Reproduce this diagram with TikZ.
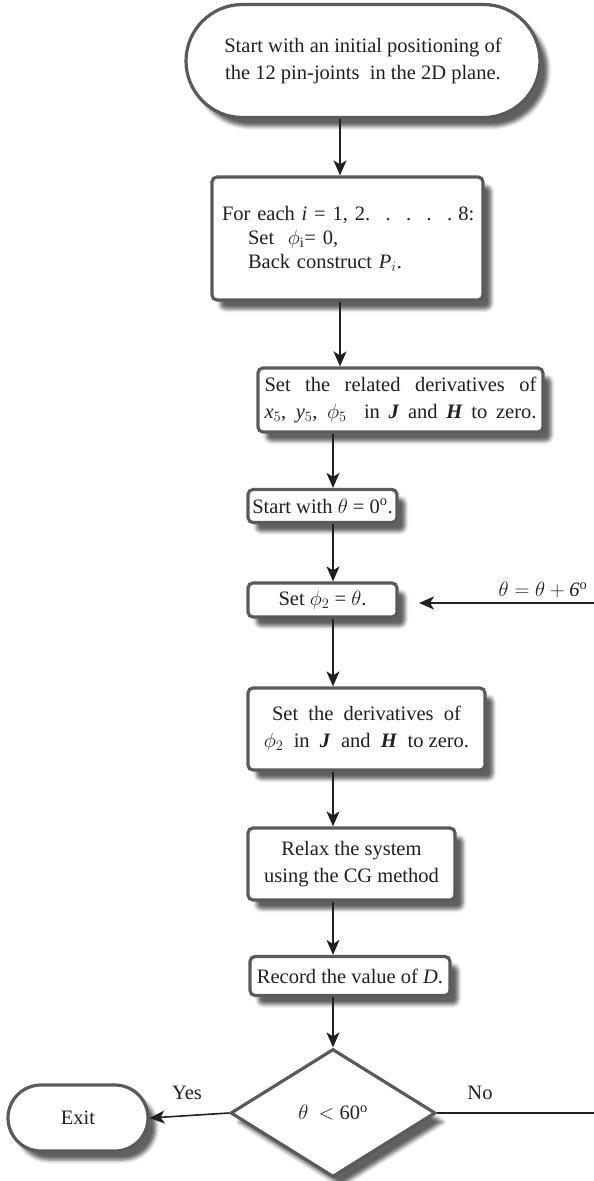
\documentclass[tikz,border=0pt]{standalone}
\usepackage{fontspec}
\setmainfont{Liberation Serif}
\usetikzlibrary{shapes.geometric,shapes.misc,shadows.blur,arrows.meta,calc}
\definecolor{edgegray}{HTML}{5A5A5A}
\definecolor{ink}{HTML}{231F20}
\begin{document}
\begin{tikzpicture}[x=1pt,y=-1pt,
  font=\fontsize{20.5}{27}\selectfont,
  shade box/.style={blur shadow={shadow xshift=8pt,shadow yshift=-9pt,shadow blur radius=3.5pt,shadow opacity=62}},
  procbox/.style={draw=edgegray,line width=3.2pt,rounded corners=5pt,fill=white,shade box,inner sep=0pt,align=center,text=ink},
  termbox/.style={rounded rectangle,draw=edgegray,line width=3.2pt,fill=white,shade box,inner sep=0pt,align=center,text=ink},
  decbox/.style={diamond,draw=edgegray,line width=3.2pt,fill=white,shade box,inner sep=0pt,align=center,text=ink},
  arr/.style={draw=ink,line width=1.6pt,-{Stealth[length=15pt,width=13pt,inset=4pt]}},
  plainline/.style={draw=ink,line width=1.6pt},
  lbl/.style={text=ink,inner sep=0pt}]
\useasboundingbox (0,0) rectangle (594,1181);

\node[termbox,minimum width=354pt,minimum height=113pt] (S1) at (363,61)
  {Start with an initial positioning of\\the 12 pin-joints~ in the 2D plane.};

\node[procbox,minimum width=271pt,minimum height=123pt,text width=251pt,align=left,
      font=\fontsize{20.5}{24}\selectfont] (B2) at (347.5,238.5)
  {\mbox{For each \textit{i} = 1, 2.\hspace{0.75em}.\hspace{0.75em}.\hspace{0.75em}.\hspace{0.75em}.\hspace{0.3em}8:}\\
   \hspace*{26pt}Set~ $\phi_{\mathrm{i}}$= 0,\\
   \hspace*{26pt}Back construct \textit{P}$_{i}$.};

\node[procbox,minimum width=285pt,minimum height=64pt] (B3) at (400.5,400)
  {\makebox[272pt][s]{Set the related derivatives of}\\
   \makebox[272pt][s]{\textit{x}$_{5}$, \textit{y}$_{5}$, $\phi_{5}$ ~in \textbf{\textit{J}} and \textbf{\textit{H}} to zero.}};

\node[procbox,minimum width=149pt,minimum height=33pt] (B4) at (322.5,506)
  {Start with $\theta$ = 0\textsuperscript{o}.};

\node[procbox,minimum width=149pt,minimum height=34pt] (B5) at (322.5,600)
  {Set $\phi_{2}$ = $\theta$.};

\node[procbox,minimum width=237pt,minimum height=82pt] (B6) at (366.5,729)
  {Set~ the~ derivatives~ of\\$\phi_{2}$~ in~ \textbf{\textit{J}}~ and~ \textbf{\textit{H}}~ to zero.};

\node[procbox,minimum width=207pt,minimum height=72pt] (B7) at (351.5,864)
  {Relax the system\\using the CG method};

\node[procbox,minimum width=200pt,minimum height=39pt] (B8) at (350,976)
  {Record the value of \textit{D}.};

\node[decbox,minimum width=205pt,minimum height=128pt] (D) at (333,1113)
  {$\theta$ ~$<$ 60\textsuperscript{o}};

\node[termbox,minimum width=140pt,minimum height=66pt] (EX) at (78,1118) {Exit};

\coordinate (colA) at (340,0);
\coordinate (colB) at (333,0);
\coordinate (loopIn) at (594,603);
\coordinate (noEnd) at (594,1113);
\coordinate (loopTip) at (419,603);

\draw[arr] (S1.south -| colA) -- (B2.north -| colA);
\draw[arr] (B2.south -| colA) -- (B3.north -| colA);
\draw[arr] (B3.south -| colB) -- (B4.north -| colB);
\draw[arr] (B4.south -| colB) -- (B5.north -| colB);
\draw[arr] (B5.south -| colB) -- (B6.north -| colB);
\draw[arr] (B6.south -| colB) -- (B7.north -| colB);
\draw[arr] (B7.south -| colB) -- (B8.north -| colB);
\draw[arr] (B8.south -| colB) -- (D.north);
\draw[arr] (D.west) -- (EX.east);
\draw[plainline] (D.east) -- (noEnd);
\draw[arr] (loopIn) -- (loopTip);

\node[lbl] (lblLoop) at (543,590) {$\theta = \theta + \mathit{6}^{\mathrm{o}}$};
\node[lbl] (lblYes) at (187,1093) {Yes};
\node[lbl] (lblNo) at (480,1093) {No};
\end{tikzpicture}
\end{document}
